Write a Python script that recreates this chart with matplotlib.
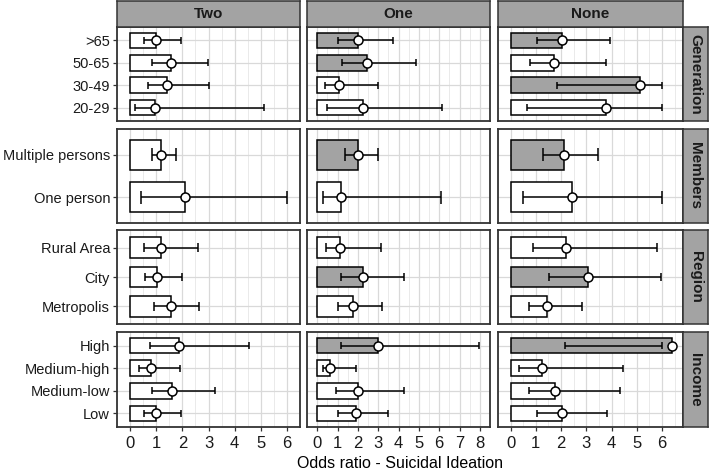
import matplotlib.pyplot as plt

plt.rcParams['font.family'] = ['Liberation Sans', 'DejaVu Sans']

# categories, top to bottom inside each facet row
groups = ["Generation", "Members", "Region", "Income"]
group_labels = [
    [">65", "50-65", "30-49", "20-29"],
    ["Multiple persons", "One person"],
    ["Rural Area", "City", "Metropolis"],
    ["High", "Medium-high", "Medium-low", "Low"],
]
columns = ["Two", "One", "None"]

# odds ratio, CI low, CI high, significant (grey bar) - same order as group_labels flattened
two_or = [1.00, 1.56, 1.41, 0.96, 1.20, 2.12, 1.18, 1.02, 1.56, 1.86, 0.80, 1.62, 1.00]
two_lo = [0.54, 0.82, 0.67, 0.20, 0.82, 0.42, 0.54, 0.56, 0.90, 0.76, 0.34, 0.82, 0.54]
two_hi = [1.95, 2.99, 3.02, 5.14, 1.74, 6.00, 2.58, 1.98, 2.64, 4.56, 1.92, 3.26, 1.94]
two_sig = [0, 0, 0, 0, 0, 0, 0, 0, 0, 0, 0, 0, 0]

one_or = [2.02, 2.45, 1.07, 2.24, 1.99, 1.16, 1.11, 2.23, 1.78, 2.97, 0.62, 2.02, 1.91]
one_lo = [1.03, 1.21, 0.38, 0.48, 1.38, 0.29, 0.43, 1.19, 1.00, 1.16, 0.27, 0.95, 1.00]
one_hi = [3.72, 4.85, 3.00, 6.15, 2.99, 6.07, 3.13, 4.25, 3.18, 7.97, 1.91, 4.29, 3.50]
one_sig = [1, 1, 0, 0, 1, 0, 0, 1, 0, 1, 0, 0, 0]

none_or = [2.02, 1.70, 5.14, 3.79, 2.10, 2.43, 2.19, 3.05, 1.46, 6.41, 1.23, 1.77, 2.02]
none_lo = [1.04, 0.78, 1.85, 0.65, 1.30, 0.49, 0.87, 1.53, 0.74, 2.14, 0.32, 0.74, 1.04]
none_hi = [3.93, 3.76, 6.00, 6.00, 3.48, 6.00, 5.81, 5.97, 2.83, 6.00, 4.45, 4.32, 3.83]
none_sig = [1, 0, 1, 0, 1, 0, 0, 1, 0, 1, 0, 0, 0]

col_data = [
    (two_or, two_lo, two_hi, two_sig),
    (one_or, one_lo, one_hi, one_sig),
    (none_or, none_lo, none_hi, none_sig),
]
col_xlim = [(-0.30, 6.30), (-0.40, 8.35), (-0.33, 6.83)]
col_xmax_tick = [6, 8, 6]

W, H = 709, 470
fig = plt.figure(figsize=(W / 100, H / 100), dpi=100)


def box(x0, y0, x1, y1):
    return [x0 / W, 1 - y1 / H, (x1 - x0) / W, (y1 - y0) / H]


col_px = [(117, 300), (307, 490), (498, 683)]
row_px = [(27, 121), (129, 223), (230, 324), (332, 427)]
edge = "#333333"
grey = "#a3a3a3"

for c, (x0, x1) in enumerate(col_px):
    vals, lo, hi, sig = col_data[c]
    start = 0
    for r, (y0, y1) in enumerate(row_px):
        labels = group_labels[r]
        n = len(labels)
        ax = fig.add_axes(box(x0, y0, x1, y1))
        ys = [n - i for i in range(n)]
        sl = slice(start, start + n)
        v, l, h, s = vals[sl], lo[sl], hi[sl], sig[sl]
        start += n

        ax.barh(ys, v, height=0.7, color=[grey if k else "white" for k in s],
                edgecolor="black", linewidth=1.1, zorder=3)
        ax.hlines(ys, l, h, color="black", linewidth=1.1, zorder=4)
        ax.vlines(l, [y - 0.15 for y in ys], [y + 0.15 for y in ys], color="black", linewidth=1.1, zorder=4)
        ax.vlines(h, [y - 0.15 for y in ys], [y + 0.15 for y in ys], color="black", linewidth=1.1, zorder=4)
        ax.plot(v, ys, "o", markersize=6.5, markerfacecolor="white", markeredgecolor="black",
                markeredgewidth=1.1, zorder=5, linestyle="none")

        ax.set_xlim(col_xlim[c])
        ax.set_ylim(0.4, n + 0.6)
        ax.set_xticks(range(0, col_xmax_tick[c] + 1))
        ax.set_xticks([k + 0.5 for k in range(-1, col_xmax_tick[c] + 1)], minor=True)
        ax.set_yticks(ys)
        ax.grid(True, which="major", color="#d9d9d9", linewidth=0.9, zorder=0)
        ax.grid(True, which="minor", axis="x", color="#e6e6e6", linewidth=0.6, zorder=0)
        ax.set_axisbelow(True)
        for sp in ax.spines.values():
            sp.set_color(edge)
            sp.set_linewidth(1.3)
        ax.tick_params(which="minor", length=0)
        ax.tick_params(which="major", length=3, width=0.9, color=edge, labelsize=10.5, pad=2)
        if c == 0:
            ax.set_yticklabels(labels, fontsize=10.5, color="#1a1a1a")
        else:
            ax.tick_params(axis="y", length=0, labelleft=False)
        if r == len(row_px) - 1:
            ax.tick_params(axis="x", labelsize=12, colors="#333333", labelcolor="#1a1a1a", pad=3.5)
        else:
            ax.tick_params(axis="x", length=0, labelbottom=False)

        if c == 2:
            sax = fig.add_axes(box(683, y0, 708, y1))
            sax.set_facecolor(grey)
            sax.set_xticks([])
            sax.set_yticks([])
            for sp in sax.spines.values():
                sp.set_color(edge)
                sp.set_linewidth(1.1)
            sax.text(0.5, 0.5, groups[r], rotation=-90, ha="center", va="center",
                     fontsize=11, fontweight="bold", color="#1a1a1a", transform=sax.transAxes)

    tax = fig.add_axes(box(x0, 1, x1, 27))
    tax.set_facecolor(grey)
    tax.set_xticks([])
    tax.set_yticks([])
    for sp in tax.spines.values():
        sp.set_color(edge)
        sp.set_linewidth(1.1)
    tax.text(0.5, 0.5, columns[c], ha="center", va="center", fontsize=11,
             fontweight="bold", color="#1a1a1a", transform=tax.transAxes)

fig.text(400 / W, 1 - 463 / H, "Odds ratio - Suicidal Ideation", ha="center", va="center",
         fontsize=11.5, color="black")

fig.savefig("out.png", dpi=100, facecolor="white")
